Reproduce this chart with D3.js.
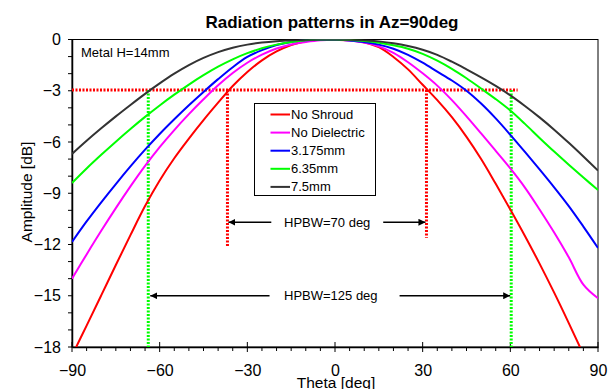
<!DOCTYPE html>
<html><head><meta charset="utf-8">
<script src="https://cdn.jsdelivr.net/npm/d3@7"></script>
<style>
body{margin:0;background:#fff;}
text{font-family:"Liberation Sans",Arial,sans-serif;}
</style>
</head><body>
<svg id="chart" width="613" height="389"></svg>
<script>
const theta = [-90,-85,-80,-75,-70,-65,-60,-55,-50,-45,-40,-35,-30,-25,-20,-15,-10,-5,0,5,10,15,20,25,30,35,40,45,50,55,60,65,70,75,80,85,90];
const noShroud = [-18.5,-16.75,-14.98,-13.2,-11.45,-9.75,-8.25,-6.95,-5.8,-4.72,-3.7,-2.72,-1.9,-1.22,-0.7,-0.32,-0.1,-0.01,-0.01,-0.05,-0.17,-0.45,-1.02,-1.75,-2.65,-3.55,-4.55,-5.7,-7.0,-8.45,-9.95,-11.5,-13.12,-14.82,-16.6,-18.43,-20.3];
const noDielectric = [-14.0,-12.58,-11.2,-9.87,-8.6,-7.4,-6.3,-5.3,-4.37,-3.5,-2.68,-1.96,-1.36,-0.89,-0.53,-0.29,-0.15,-0.05,-0.02,-0.06,-0.18,-0.4,-0.78,-1.33,-1.98,-2.7,-3.55,-4.5,-5.5,-6.52,-7.55,-8.67,-9.95,-11.3,-12.75,-14.35,-15.15];
const mm3175 = [-11.85,-10.65,-9.53,-8.46,-7.43,-6.45,-5.53,-4.67,-3.85,-3.07,-2.32,-1.62,-1.02,-0.62,-0.32,-0.14,-0.05,-0.01,-0.02,-0.06,-0.15,-0.3,-0.54,-0.9,-1.36,-1.88,-2.4,-3.0,-3.75,-4.62,-5.58,-6.58,-7.6,-8.65,-9.75,-10.95,-12.2];
const mm635 = [-8.4,-7.55,-6.75,-5.98,-5.24,-4.53,-3.86,-3.23,-2.64,-2.09,-1.59,-1.16,-0.8,-0.51,-0.3,-0.15,-0.05,0,0,-0.03,-0.09,-0.19,-0.34,-0.54,-0.84,-1.24,-1.72,-2.27,-2.87,-3.49,-4.16,-4.94,-5.76,-6.56,-7.33,-8.08,-8.81];
const mm75 = [-6.7,-5.93,-5.2,-4.5,-3.83,-3.18,-2.57,-2.0,-1.5,-1.08,-0.74,-0.48,-0.3,-0.18,-0.1,-0.05,-0.02,0,0,-0.01,-0.04,-0.11,-0.22,-0.38,-0.6,-0.9,-1.3,-1.75,-2.22,-2.72,-3.27,-3.89,-4.56,-5.28,-6.05,-6.85,-7.67];
const seriesNames = ["No Shroud","No Dielectric","3.175mm","6.35mm","7.5mm"];
const seriesColors = ["#ff0000","#ff00ff","#0000ff","#00ff00","#333333"];
const xTicks = [-90,-60,-30,0,30,60,90];
const yTicks = [0,-3,-6,-9,-12,-15,-18];
// annotation values (degrees / dB)
const hpbwNarrow = [-36.8, 31.3];      // red verticals
const hpbwNarrowEnd = [-12.1, -11.6];
const hpbwWide = [-63.9, 60.3];        // green verticals
const halfPower = -2.95;
const redLineEnd = 62.5;

const svg = d3.select("#chart");
const x = d3.scaleLinear().domain([-90,90]).range([72,598]);
const y = d3.scaleLinear().domain([-18,0]).range([347,39.5]);

const defs = svg.append("defs");
defs.append("clipPath").attr("id","clip")
  .append("rect").attr("x",72).attr("y",39.5).attr("width",526).attr("height",307.5);
defs.append("marker").attr("id","arr").attr("viewBox","0 0 10 10").attr("refX",10).attr("refY",5)
  .attr("markerWidth",7).attr("markerHeight",7).attr("markerUnits","userSpaceOnUse").attr("orient","auto")
  .append("path").attr("d","M0,0L10,5L0,10z").attr("fill","#000");

// frame
svg.append("rect").attr("x",72).attr("y",39.5).attr("width",526).attr("height",307.5)
  .attr("fill","none").attr("stroke","#000").attr("stroke-width",1);

// title
svg.append("text").attr("x",332).attr("y",28).attr("text-anchor","middle")
  .attr("font-size",17).attr("font-weight","bold").text("Radiation patterns in Az=90deg");

// axes
const xAxis = d3.axisBottom(x).tickValues(xTicks).tickSize(0).tickPadding(18);
const gx = svg.append("g").attr("transform","translate(0,347)").call(xAxis);
gx.select(".domain").attr("stroke","#000").attr("stroke-width",1.5);
gx.selectAll("text").attr("font-size",16).attr("fill","#000").attr("font-family","Liberation Sans, Arial, sans-serif");
const xMinor = d3.range(-90,91,5);
svg.append("g").selectAll("line").data(xMinor).join("line")
  .attr("x1",d=>x(d)).attr("x2",d=>x(d))
  .attr("y1",d=>d%30===0?342:347).attr("y2",d=>d%30===0?352:351)
  .attr("stroke","#000").attr("stroke-width",1);

const yAxis = d3.axisLeft(y).tickValues(yTicks).tickSize(0).tickPadding(11).tickFormat(d3.format("d"));
const gy = svg.append("g").attr("transform","translate(72,0)").call(yAxis);
gy.select(".domain").attr("stroke","#000").attr("stroke-width",1.5);
gy.selectAll("text").attr("font-size",16).attr("fill","#000").attr("font-family","Liberation Sans, Arial, sans-serif");
const yMinor = d3.range(-18,1,1);
svg.append("g").selectAll("line").data(yMinor).join("line")
  .attr("x1",68).attr("x2",72).attr("y1",d=>y(d)).attr("y2",d=>y(d))
  .attr("stroke","#000").attr("stroke-width",1);

svg.append("text").attr("x",336).attr("y",388).attr("text-anchor","middle")
  .attr("font-size",15.5).text("Theta [deg]");
svg.append("text").attr("transform","translate(32,192) rotate(-90)").attr("text-anchor","middle")
  .attr("font-size",15.5).text("Amplitude [dB]");

// dotted reference lines
const ann = svg.append("g");
ann.append("line").attr("x1",x(-90)).attr("x2",x(redLineEnd)).attr("y1",y(halfPower)).attr("y2",y(halfPower))
  .attr("stroke","#ff0000").attr("stroke-width",3).attr("stroke-dasharray","2,1.5");
hpbwNarrow.forEach((t,i)=>{
  ann.append("line").attr("x1",x(t)).attr("x2",x(t)).attr("y1",y(halfPower)).attr("y2",y(hpbwNarrowEnd[i]))
    .attr("stroke","#ff0000").attr("stroke-width",3).attr("stroke-dasharray","2,1.5");
});
hpbwWide.forEach(t=>{
  ann.append("line").attr("x1",x(t)).attr("x2",x(t)).attr("y1",y(halfPower)).attr("y2",y(-18))
    .attr("stroke","#00ff00").attr("stroke-width",3).attr("stroke-dasharray","2,1.5");
});

// curves
const allSeries = [noShroud,noDielectric,mm3175,mm635,mm75];
const line = d3.line().x((d,i)=>x(theta[i])).y(d=>y(d)).curve(d3.curveCatmullRom.alpha(0.5));
const gc = svg.append("g").attr("clip-path","url(#clip)");
allSeries.forEach((s,k)=>{
  gc.append("path").datum(s).attr("d",line).attr("fill","none")
    .attr("stroke",seriesColors[k]).attr("stroke-width",2);
});

// arrows and labels
function arrow(x1,x2,yy){
  ann.append("line").attr("x1",x1).attr("x2",x2).attr("y1",yy).attr("y2",yy)
    .attr("stroke","#000").attr("stroke-width",1.5).attr("marker-end","url(#arr)");
}
const yN = y(-10.7), yW = y(-15);
arrow(x(-21.8), x(hpbwNarrow[0])+1, yN);
arrow(x(16.5), x(hpbwNarrow[1])-1, yN);
ann.append("text").attr("x",284).attr("y",yN+4.5).attr("font-size",13).text("HPBW=70 deg");
arrow(x(-22.4), x(hpbwWide[0])+2, yW);
arrow(x(22.1), x(hpbwWide[1])-1, yW);
ann.append("text").attr("x",284).attr("y",yW+4.5).attr("font-size",13).text("HPBW=125 deg");

svg.append("text").attr("x",81).attr("y",57).attr("font-size",13).text("Metal H=14mm");

// legend
const lg = svg.append("g");
lg.append("rect").attr("x",254.5).attr("y",103.5).attr("width",121).attr("height",92)
  .attr("fill","#fff").attr("stroke","#000").attr("stroke-width",1);
seriesNames.forEach((n,k)=>{
  const yy = 114.5 + k*18.1;
  lg.append("line").attr("x1",270.5).attr("x2",290).attr("y1",yy).attr("y2",yy)
    .attr("stroke",seriesColors[k]).attr("stroke-width",2);
  lg.append("text").attr("x",291).attr("y",yy+4.5).attr("font-size",13).text(n);
});
</script>
</body></html>
